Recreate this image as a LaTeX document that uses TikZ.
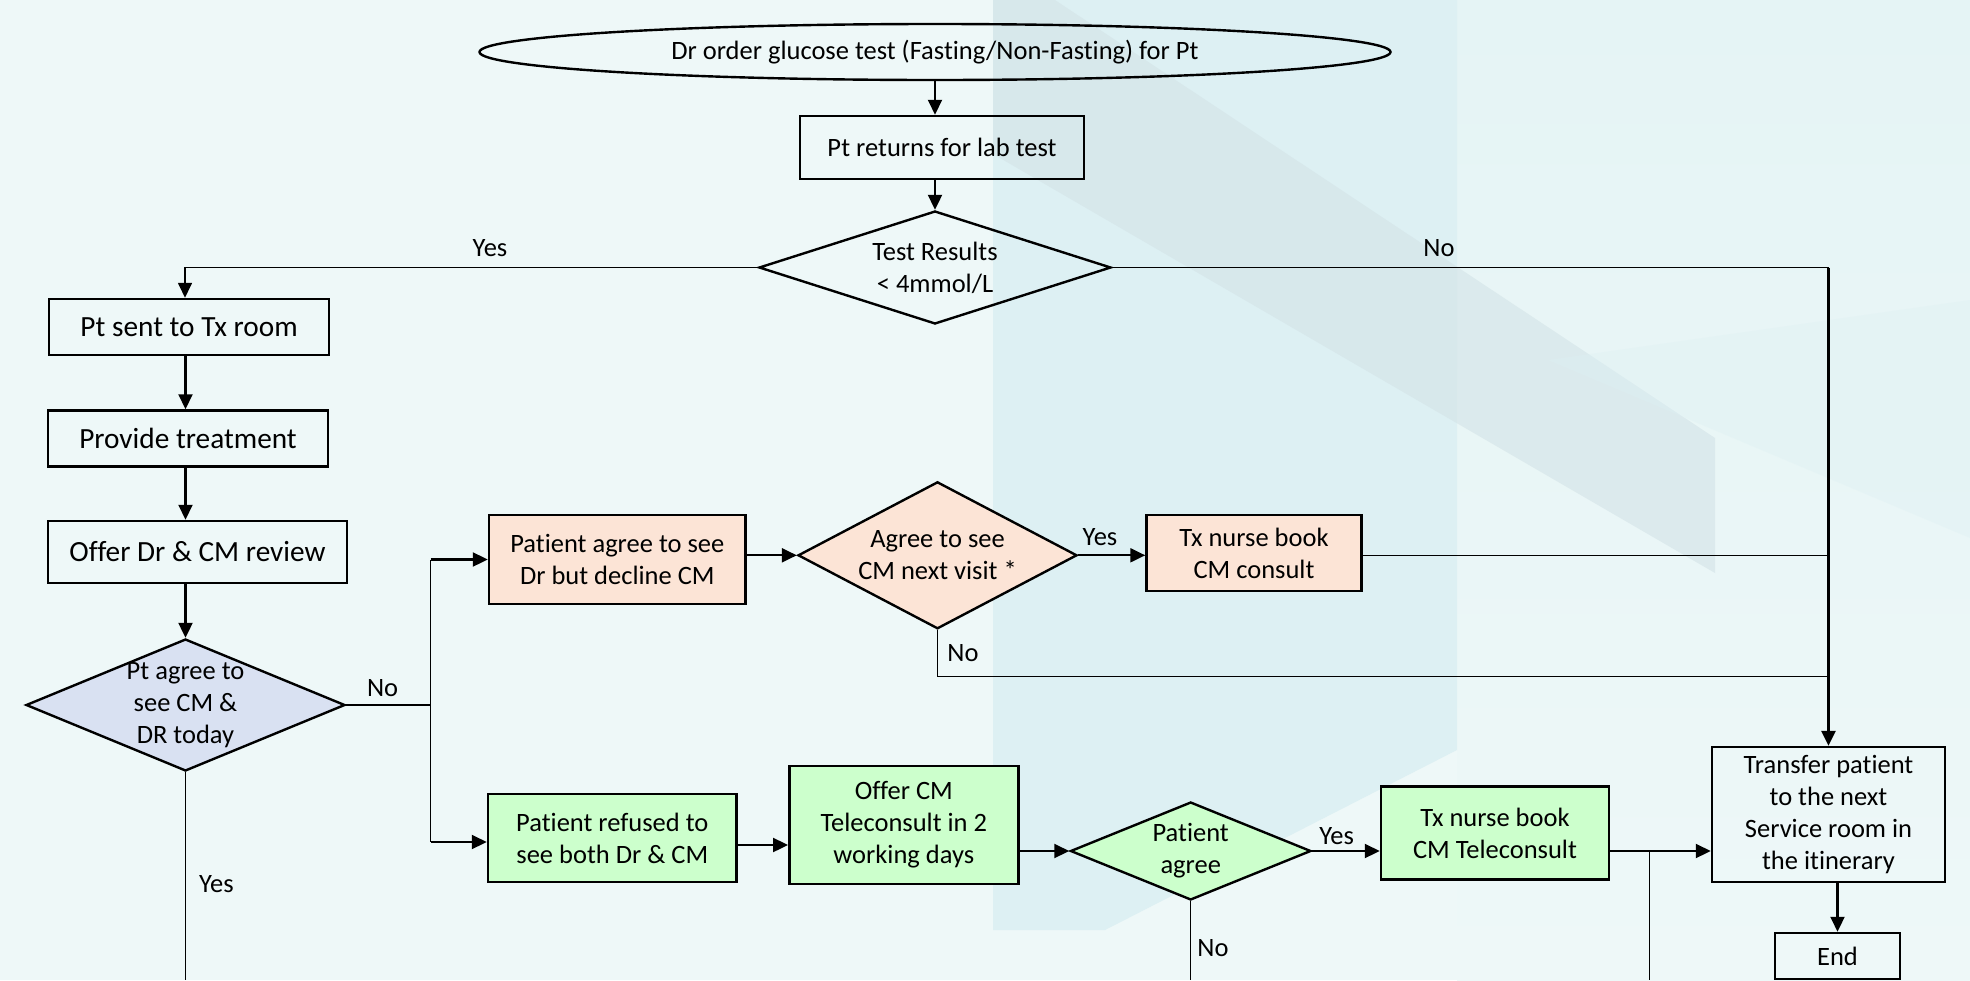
\documentclass[tikz,border=0pt]{standalone}
\usepackage{fontspec}
\setmainfont{Carlito}[RawFeature={-liga;-clig;-dlig;-calt;-rlig}]
\usetikzlibrary{shapes.geometric,arrows.meta,calc}
\begin{document}
\begin{tikzpicture}[x=0.5pt,y=-0.5pt,
  fs/.style={font=\fontsize{13.25}{16}\selectfont},
  fb/.style={font=\fontsize{14.65}{17.5}\selectfont},
  box/.style={draw=black, line width=1.25pt, rectangle, inner sep=0pt, align=center, fs},
  dia/.style={draw=black, line width=1.2pt, diamond, inner sep=0pt},
  txt/.style={align=center, inner sep=0pt, fs},
  lbl/.style={inner sep=0pt, fs},
  arr/.style={line width=1.05pt, -{Triangle[length=7.5pt,width=7pt]}},
  thinln/.style={line width=0.65pt},
  medln/.style={line width=0.85pt},
]
\definecolor{bgbase}{HTML}{EEF8F8}
\definecolor{bgband}{HTML}{DDF0F3}
\definecolor{bggrey}{HTML}{D3E3E7}
\definecolor{bgright}{HTML}{E5F4F5}
\definecolor{lav}{HTML}{D9E1F2}
\definecolor{peach}{HTML}{FCE4D6}
\definecolor{mint}{HTML}{CCFFCC}

% background
\useasboundingbox (0,0) rectangle (1970,980);
\fill[bgbase] (0,0) rectangle (1970,980);
\shade[top color=bgright, bottom color=bgbase] (1457,0) rectangle (1970,980);
\fill[bgband] (993,0) -- (1457,0) -- (1457,750) -- (1105,930) -- (993,930) -- cycle;
\fill[bggrey, opacity=0.6] (993,0) -- (1055,0) -- (1715,438) -- (1715,573) -- (993,154) -- cycle;
\fill[bgband, opacity=0.35] (1548,360) -- (1970,300) -- (1970,538) -- cycle;

% nodes
\node[draw=black, line width=1.2pt, ellipse, inner sep=0pt, fs, minimum width=455.5pt, minimum height=28pt] (ell) at (935,52) {Dr order glucose test (Fasting/Non-Fasting) for Pt};
\node[box, minimum width=142pt, minimum height=31.5pt] (lab) at (942,147.5) {Pt returns for lab test};
\node[dia, minimum width=176pt, minimum height=56.5pt] (d1) at (935,267.5) {};
\node[txt] (d1t) at (d1) {Test Results\\< 4mmol/L};

\node[box, fb, minimum width=140pt, minimum height=28pt] (tx) at (189,327) {Pt sent to Tx room};
\node[box, fb, minimum width=140pt, minimum height=28pt] (prov) at (188,438.5) {Provide treatment};
\node[box, fb, minimum width=149.5pt, minimum height=31pt] (offer) at (197.5,552) {Offer Dr \& CM review};
\node[dia, fill=lav, minimum width=159.5pt, minimum height=66pt] (d2) at (185.5,705) {};
\node[txt] (d2t) at (d2) {Pt agree to\\see CM \&\\DR today};

\node[box, fill=peach, minimum width=128.25pt, minimum height=44.5pt] (p8) at (617.3,559.5) {Patient agree to see\\Dr but decline CM};
\node[dia, fill=peach, minimum width=139.5pt, minimum height=73.5pt] (d9) at (937.5,555.3) {};
\node[txt] (d9t) at (d9) {Agree to see\\CM next visit *};
\node[box, fill=peach, minimum width=107.5pt, minimum height=38pt] (p10) at (1254,553) {Tx nurse book\\CM consult};

\node[box, fill=mint, minimum width=124.3pt, minimum height=44pt] (p11) at (612.3,838) {Patient refused to\\see both Dr \& CM};
\node[box, fill=mint, minimum width=114.5pt, minimum height=59pt] (p12) at (903.8,825) {Offer CM\\Teleconsult in 2\\working days};
\node[dia, fill=mint, minimum width=120.25pt, minimum height=49pt] (d13) at (1190.7,851) {};
\node[txt] (d13t) at (d13) {Patient\\agree};
\node[box, fill=mint, minimum width=114pt, minimum height=46.5pt] (p14) at (1495,833) {Tx nurse book\\CM Teleconsult};

\node[box, minimum width=116.5pt, minimum height=67.5pt] (trans) at (1828.5,814.5) {Transfer patient\\to the next\\Service room in\\the itinerary};
\node[box, minimum width=62.5pt, minimum height=23pt] (end) at (1837.5,956) {End};

% labels
\node[lbl] (l1) at (490,248) {Yes};
\node[lbl] (l2) at (1439,248) {No};
\node[lbl] (l3) at (382.6,688) {No};
\node[lbl] (l4) at (216.5,884) {Yes};
\node[lbl] (l5) at (1100,537) {Yes};
\node[lbl] (l6) at (963,653) {No};
\node[lbl] (l7) at (1336.7,835.6) {Yes};
\node[lbl] (l8) at (1213,948) {No};

% helper coordinates
\coordinate (ty) at ($(tx.north)+(-4,0)$);
\coordinate (nj) at (d1.east -| trans.north);
\coordinate (j1) at ($(d2.east)+(84.5,0)$);
\coordinate (p11in) at ($(p11.west)+(0,4)$);
\coordinate (n9) at ($(d9.south)+(0,46.6)$);
\coordinate (p11out) at ($(p11.east)+(0,7)$);
\coordinate (tj) at ($(d13.east -| p14.east)+(39.5,0)$);
\coordinate (yb) at (185.5,980);

% connectors
\draw[arr] (ell.south) -- (ell.south |- lab.north);
\draw[arr] (ell.south |- lab.south) -- (d1.north);
\draw[arr, line width=0.85pt] (d1.west) -| (ty);
\draw[medln] (d1.east) -- (nj);
\draw[arr, line width=1.35pt] (nj) -- (trans.north);

\draw[arr] (d2.north |- tx.south) -- (d2.north |- prov.north);
\draw[arr] (d2.north |- prov.south) -- (d2.north |- offer.north);
\draw[arr] (d2.north |- offer.south) -- (d2.north);

\draw[thinln] (d2.east) -- (j1);
\draw[thinln] (j1 |- p8.west) -- (j1 |- p11in);
\draw[arr] (j1 |- p8.west) -- (p8.west);
\draw[arr] (j1 |- p11in) -- (p11in);
\draw[thinln] (d2.south) -- (yb);

\draw[arr] (p8.east |- d9.west) -- (d9.west);
\draw[arr] (d9.east) -- (d9.east -| p10.west);
\draw[thinln] (p10.east |- d9.east) -- (d9.east -| nj);
\draw[thinln] (d9.south) -- (n9) -- (n9 -| nj);

\draw[arr] (p11out) -- (p11out -| p12.west);
\draw[arr] (d13.west -| p12.east) -- (d13.west);
\draw[arr] (d13.east) -- (d13.east -| p14.west);
\draw[arr] (d13.east -| p14.east) -- (d13.east -| trans.west);
\draw[thinln] (tj) -- (tj |- yb);
\draw[thinln] (d13.south) -- (d13.south |- yb);

\draw[arr] (end.north |- trans.south) -- (end.north);
\end{tikzpicture}
\end{document}
